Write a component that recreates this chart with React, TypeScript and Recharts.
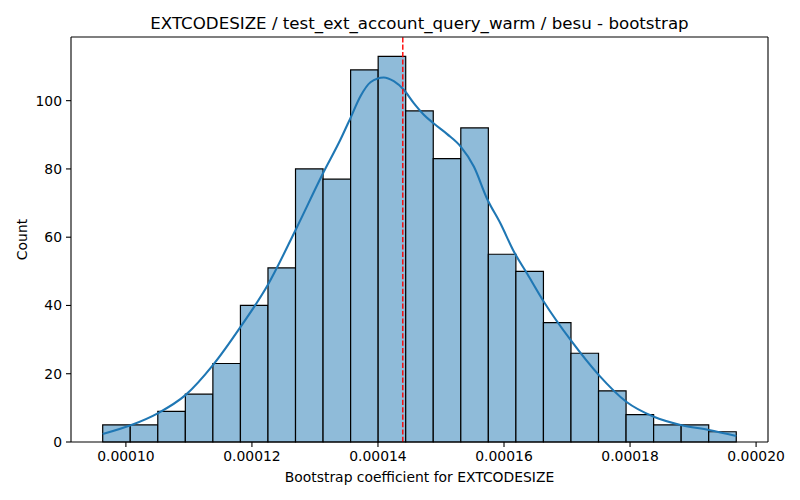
import React from "react";
import {
  ComposedChart,
  Line,
  XAxis,
  YAxis,
  ReferenceLine,
  ReferenceArea,
} from "recharts";

const binEdges = [
  9.632e-5, 1.00691e-4, 1.05062e-4, 1.09433e-4, 1.13804e-4, 1.18175e-4,
  1.22546e-4, 1.26917e-4, 1.31288e-4, 1.35659e-4, 1.4003e-4, 1.44401e-4,
  1.48772e-4, 1.53143e-4, 1.57514e-4, 1.61885e-4, 1.66256e-4, 1.70627e-4,
  1.74998e-4, 1.79369e-4, 1.8374e-4, 1.88111e-4, 1.92482e-4, 1.96853e-4,
];
const binCounts = [
  5, 5, 9, 14, 23, 40, 51, 80, 77, 109, 113, 97, 83, 92, 55, 50, 35, 26, 15, 8,
  5, 5, 3,
];

const kdeX = [
  9.632e-5, 1.0076e-4, 1.0505e-4, 1.0949e-4, 1.1384e-4, 1.1822e-4, 1.2251e-4,
  1.2695e-4, 1.313e-4, 1.3405e-4, 1.3563e-4, 1.3722e-4, 1.3881e-4, 1.4092e-4,
  1.4251e-4, 1.441e-4, 1.4568e-4, 1.4727e-4, 1.4886e-4, 1.5098e-4, 1.531e-4,
  1.5521e-4, 1.5733e-4, 1.5944e-4, 1.6156e-4, 1.6368e-4, 1.6632e-4, 1.7056e-4,
  1.7505e-4, 1.794e-4, 1.8378e-4, 1.8802e-4, 1.9251e-4, 1.9686e-4,
];
const kdeY = [
  2.35, 4.9, 8.4, 13.8, 22.6, 33.8, 46.0, 62.2, 78.8, 88.6, 94.9, 101.3, 105.4,
  106.8, 105.7, 103.2, 99.3, 95.9, 93.3, 90.2, 86.6, 80.7, 71.2, 64.0, 55.8,
  49.3, 41.1, 29.9, 19.6, 11.8, 7.4, 5.0, 3.5, 1.76,
];

const xTicks = [0.0001, 0.00012, 0.00014, 0.00016, 0.00018, 0.0002];
const yTicks = [0, 20, 40, 60, 80, 100];
const xDomain = [9.129e-5, 2.0189e-4];
const yDomain = [0, 118.65];
const meanValue = 1.4394e-4;

const titleText = "EXTCODESIZE / test_ext_account_query_warm / besu - bootstrap";
const xLabelText = "Bootstrap coefficient for EXTCODESIZE";
const yLabelText = "Count";

const bins = binCounts.map((count, i) => ({
  x1: binEdges[i],
  x2: binEdges[i + 1],
  count,
}));
const kdeData = kdeX.map((x, i) => ({ x, y: kdeY[i] }));

const FONT = "'DejaVu Sans', sans-serif";
const tickStyle = { fill: "#000", fontSize: 13.9, fontFamily: FONT };

export default function App() {
  return (
    <div
      style={{
        position: "absolute",
        left: 0,
        top: 0,
        width: 800,
        height: 500,
        background: "#fff",
      }}
    >
      <ComposedChart
        width={800}
        height={500}
        data={kdeData}
        margin={{ top: 37, right: 32, bottom: 0, left: 0 }}
      >
        <XAxis
          dataKey="x"
          type="number"
          domain={xDomain}
          ticks={xTicks}
          allowDataOverflow
          height={58}
          tickFormatter={(v: number) => v.toFixed(5)}
          tick={tickStyle}
          tickSize={5}
          tickMargin={4}
          stroke="#000"
          axisLine={{ stroke: "#000", strokeWidth: 1.1 }}
          tickLine={{ stroke: "#000", strokeWidth: 1.1 }}
        />
        <YAxis
          type="number"
          domain={yDomain}
          ticks={yTicks}
          allowDataOverflow
          width={71}
          tick={tickStyle}
          tickSize={5}
          tickMargin={4}
          stroke="#000"
          axisLine={{ stroke: "#000", strokeWidth: 1.1 }}
          tickLine={{ stroke: "#000", strokeWidth: 1.1 }}
        />
        {bins.map((b, i) => (
          <ReferenceArea
            key={i}
            x1={b.x1}
            x2={b.x2}
            y1={0}
            y2={b.count}
            fill="#8fbbd9"
            fillOpacity={1}
            stroke="#000"
            strokeWidth={1.2}
            strokeOpacity={1}
          />
        ))}
        <Line
          dataKey="y"
          type="monotone"
          stroke="#1f77b4"
          strokeWidth={2.1}
          dot={false}
          activeDot={false}
          isAnimationActive={false}
        />
        <ReferenceLine
          x={meanValue}
          stroke="red"
          strokeWidth={1.4}
          strokeDasharray="5.2 2.2"
        />
        <ReferenceLine y={yDomain[1]} stroke="#000" strokeWidth={1.1} />
        <ReferenceLine x={xDomain[1]} stroke="#000" strokeWidth={1.1} />
      </ComposedChart>
      <svg
        width={800}
        height={500}
        style={{ position: "absolute", left: 0, top: 0, pointerEvents: "none" }}
      >
        <text
          x={419.5}
          y={29}
          textAnchor="middle"
          fontFamily={FONT}
          fontSize={16.67}
          fill="#000"
        >
          {titleText}
        </text>
        <text
          x={419.5}
          y={482}
          textAnchor="middle"
          fontFamily={FONT}
          fontSize={13.9}
          fill="#000"
        >
          {xLabelText}
        </text>
        <text
          transform="translate(26.5,239.5) rotate(-90)"
          textAnchor="middle"
          fontFamily={FONT}
          fontSize={13.9}
          fill="#000"
        >
          {yLabelText}
        </text>
      </svg>
    </div>
  );
}
